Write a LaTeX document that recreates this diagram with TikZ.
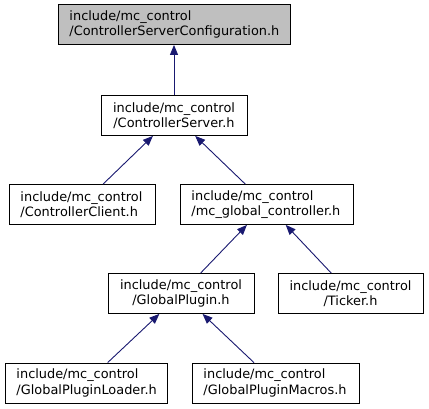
\documentclass[tikz,border=0pt]{standalone}
\usepackage{fontspec}
\setmainfont{DejaVu Sans}
\usetikzlibrary{arrows.meta}
\definecolor{edgeblue}{HTML}{191970}
\definecolor{rootfill}{HTML}{BFBFBF}
\tikzset{
  filebox/.style={draw=black, line width=0.8bp, inner xsep=11.5bp, inner ysep=0pt,
    minimum height=40bp, font=\fontsize{12.9bp}{15.2bp}\selectfont, anchor=center},
  dep/.style={draw=edgeblue, line width=0.9bp, -{Triangle[length=10bp,width=8bp]}, color=edgeblue}
}
\begin{document}
\begin{tikzpicture}[x=1bp,y=-1bp]
\useasboundingbox (0,0) rectangle (429,409);
\node[filebox, fill=rootfill, text width=209bp, align=left] (conf) at (174,24.5)
  {include/mc\_control\\/ControllerServerConfiguration.h};
\node[filebox, text width=123bp, align=center] (cs) at (174,115.5)
  {include/mc\_control\\/ControllerServer.h};
\node[filebox, text width=123bp, align=left] (cc) at (82,204.5)
  {include/mc\_control\\/ControllerClient.h};
\node[filebox, text width=150bp, align=left] (mgc) at (266.5,204.5)
  {include/mc\_control\\/mc\_global\_controller.h};
\node[filebox, text width=123bp, align=center] (gp) at (181,293.5)
  {include/mc\_control\\/GlobalPlugin.h};
\node[filebox, text width=122bp, align=center] (tk) at (350.5,293.5)
  {include/mc\_control\\/Ticker.h};
\node[filebox, text width=139bp, align=left] (gpl) at (86,383)
  {include/mc\_control\\/GlobalPluginLoader.h};
\node[filebox, text width=144bp, align=left] (gpm) at (275.5,383)
  {include/mc\_control\\/GlobalPluginMacros.h};
\draw[dep] (cs) -- (conf);
\draw[dep] (cc) -- (cs);
\draw[dep] (mgc) -- (cs);
\draw[dep] (gp) -- (mgc);
\draw[dep] (tk) -- (mgc);
\draw[dep] (gpl) -- (gp);
\draw[dep] (gpm) -- (gp);
\end{tikzpicture}
\end{document}
